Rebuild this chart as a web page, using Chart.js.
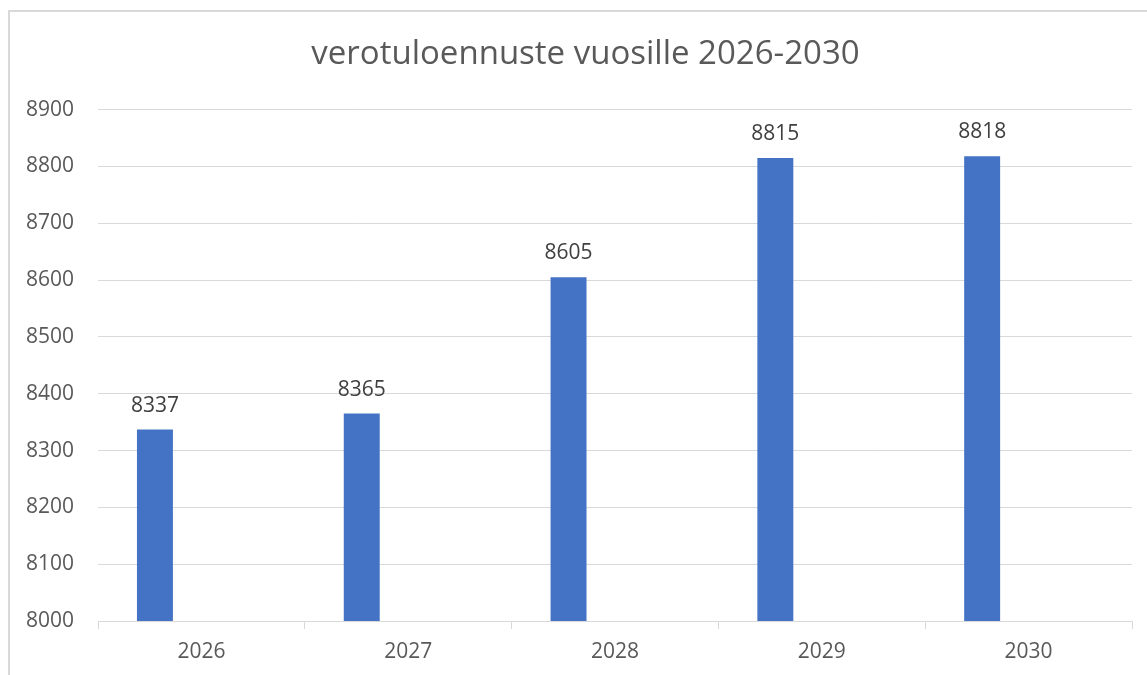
<!DOCTYPE html>
<html>
<head>
<meta charset="utf-8">
<script src="https://cdn.jsdelivr.net/npm/chart.js@4"></script>
<style>
  html, body { margin: 0; padding: 0; background: #fff; overflow: hidden; width: 1147px; height: 675px; }
  #frame { position: absolute; left: 8px; top: 10px; width: 1200px; height: 700px;
           border-left: 2px solid #D9D9D9; border-top: 2px solid #D9D9D9; box-sizing: border-box; }
  #c { position: absolute; left: 0; top: 0; }
</style>
</head>
<body>
<div id="frame"></div>
<canvas id="c" width="1171" height="675"></canvas>
<script>
const categories = ["2026", "2027", "2028", "2029", "2030"];
const taxRevenue = [8337, 8365, 8605, 8815, 8818];
const emptySeries = [null, null, null, null, null];
const yMin = 8000, yMax = 8900, yStep = 100;
const chartTitle = "verotuloennuste vuosille 2026-2030";

const FONT = "'Open Sans', sans-serif";

const dataLabels = {
  id: 'dataLabels',
  afterDatasetsDraw(chart) {
    const ctx = chart.ctx;
    const meta = chart.getDatasetMeta(0);
    ctx.save();
    ctx.font = "21px " + FONT;
    ctx.fillStyle = "#404040";
    ctx.textAlign = "center";
    ctx.textBaseline = "alphabetic";
    meta.data.forEach((bar, i) => {
      const v = chart.data.datasets[0].data[i];
      if (v == null) return;
      ctx.fillText(String(v), bar.x, bar.y - 18);
    });
    ctx.restore();
  }
};

new Chart(document.getElementById('c'), {
  type: 'bar',
  data: {
    labels: categories,
    datasets: [
      { label: 'verotulo', data: taxRevenue, backgroundColor: '#4472C4',
        categoryPercentage: 0.8986, barPercentage: 0.387 },
      { label: '', data: emptySeries, backgroundColor: '#ED7D31',
        categoryPercentage: 0.8986, barPercentage: 0.387 }
    ]
  },
  options: {
    responsive: false,
    animation: false,
    layout: { padding: 0 },
    plugins: {
      legend: { display: false },
      tooltip: { enabled: false },
      title: {
        display: true,
        text: chartTitle,
        color: '#595959',
        font: { family: FONT, size: 33, weight: 'normal', lineHeight: 1.2 },
        padding: { top: 35, bottom: 35 }
      }
    },
    scales: {
      x: {
        grid: { offset: true, drawOnChartArea: false, drawTicks: true, tickLength: 8, color: '#D9D9D9', lineWidth: 1 },
        border: { display: true, color: '#D9D9D9', width: 1 },
        ticks: { color: '#595959', font: { family: FONT, size: 21 }, padding: 10, maxRotation: 0 },
        afterFit(scale) { scale.height = 54; }
      },
      y: {
        min: yMin, max: yMax,
        grid: { color: '#D9D9D9', lineWidth: 1, drawTicks: false },
        border: { display: false },
        ticks: { stepSize: yStep, color: '#595959', font: { family: FONT, size: 21 }, padding: 24,
                 callback: (v) => String(v) },
        afterFit(scale) { scale.width = 98; }
      },
      yRight: {
        position: 'right',
        display: true,
        min: yMin, max: yMax,
        grid: { drawOnChartArea: false, drawTicks: false, display: false },
        border: { display: false },
        ticks: { display: false },
        afterFit(scale) { scale.width = 39; }
      }
    }
  },
  plugins: [dataLabels]
});
</script>
</body>
</html>
